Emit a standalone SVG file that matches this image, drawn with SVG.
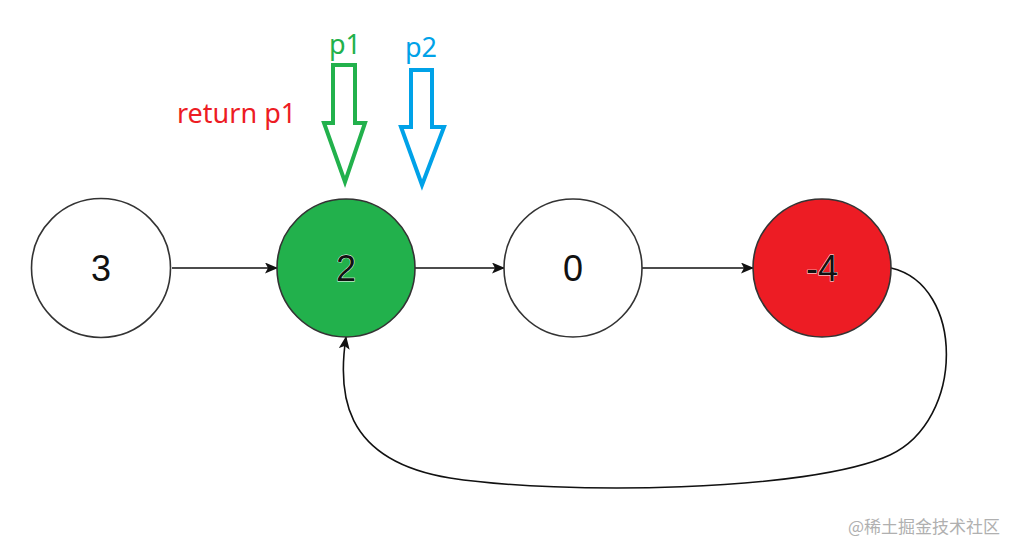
<svg xmlns="http://www.w3.org/2000/svg" width="1009" height="546" viewBox="0 0 1009 546">
<style>
.node{stroke:#333;stroke-width:1.6}
.lbl{font-family:"Liberation Sans",Arial,sans-serif;font-size:36px;text-anchor:middle;fill:#111}
.edge{fill:none;stroke:#111;stroke-width:1.6}
.ptr{fill:none;stroke-width:4;stroke-linejoin:miter}
.ann{font-family:"Noto Sans","Open Sans",sans-serif;font-size:27px}
</style>
<defs>
<marker id="ah" markerWidth="13" markerHeight="11" refX="12" refY="5.5" orient="auto" markerUnits="userSpaceOnUse">
<path d="M0,0 L13,5.5 L0,11 L3,5.5 Z" fill="#111"/>
</marker>
</defs>
<rect width="1009" height="546" fill="#fff"/>
<g id="edges">
<line class="edge" x1="172" y1="268" x2="277" y2="268" marker-end="url(#ah)"/>
<line class="edge" x1="415" y1="268" x2="504" y2="268" marker-end="url(#ah)"/>
<line class="edge" x1="642" y1="268" x2="753" y2="268" marker-end="url(#ah)"/>
<path class="edge" d="M891,268 C965,285 965,420 890,455 C810,492 560,495 450,478 C340,460 338,390 346,337" marker-end="url(#ah)"/>
</g>
<g id="node-3">
<circle class="node" cx="101" cy="268" r="69.5" fill="#fff"/>
<text class="lbl" x="101" y="281">3</text>
</g>
<g id="node-2">
<circle class="node" cx="346" cy="268" r="69" fill="#22b14c"/>
<text class="lbl" x="346" y="281" style="stroke:#fff;stroke-width:0.8;paint-order:stroke">2</text>
</g>
<g id="node-0">
<circle class="node" cx="573" cy="268" r="69" fill="#fff"/>
<text class="lbl" x="573" y="281">0</text>
</g>
<g id="node-m4">
<circle class="node" cx="822" cy="268" r="69" fill="#ed1c24"/>
<text class="lbl" x="822" y="281" style="stroke:#fff;stroke-width:0.8;paint-order:stroke">-4</text>
</g>
<g id="pointer-p1">
<path class="ptr" stroke="#22b14c" d="M333,65 H355 V123 H365 L345,182 L324,123 H333 Z"/>
<text class="ann" x="345" y="54" text-anchor="middle" fill="#22b14c">p1</text>
</g>
<g id="pointer-p2">
<path class="ptr" stroke="#00a2e8" d="M411,70 H432 V127 H444 L422,185 L401,127 H411 Z"/>
<text class="ann" x="421" y="57" text-anchor="middle" fill="#00a2e8">p2</text>
</g>
<g id="return-label">
<text class="ann" x="177" y="123" fill="#ed1c24">return p1</text>
</g>
<text x="1000" y="533" text-anchor="end" font-family="Noto Sans CJK SC, sans-serif" font-size="17" fill="#b0b0b0">@稀土掘金技术社区</text>
</svg>
